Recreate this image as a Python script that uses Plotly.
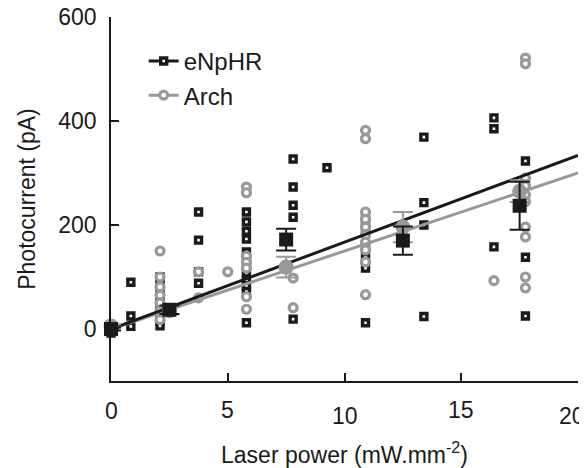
import plotly.graph_objects as go

# ---- data ----
enphr_x = [0, 0, 0.85, 0.85, 0.85,
           2.1, 2.1, 2.1, 2.1, 2.1, 2.1, 2.1, 2.1, 2.1,
           3.75, 3.75, 3.75, 3.75,
           5.8, 5.8, 5.8, 5.8, 5.8, 5.8, 5.8, 5.8, 5.8, 5.8, 5.8, 5.8,
           7.8, 7.8, 7.8, 7.8, 7.8,
           9.25,
           10.9, 10.9, 10.9, 10.9, 10.9, 10.9, 10.9,
           13.4, 13.4, 13.4, 13.4,
           16.4, 16.4, 16.4,
           17.75, 17.75, 17.75, 17.75]
enphr_y = [0, -8, 90, 25, 5,
           100, 88, 75, 62, 50, 38, 25, 15, 6,
           225, 171, 110, 88,
           225, 206, 188, 173, 148, 135, 122, 108, 95, 82, 72, 12,
           327, 273, 238, 215, 19,
           310,
           215, 206, 190, 156, 138, 117, 12,
           369, 243, 200, 24,
           406, 385, 158,
           323, 280, 138, 25]

arch_x = [0,
          2.1, 2.1, 2.1, 2.1, 2.1, 2.1, 2.1,
          3.75, 3.75,
          5.0,
          5.8, 5.8, 5.8, 5.8, 5.8, 5.8, 5.8,
          7.8, 7.8,
          10.9, 10.9, 10.9, 10.9, 10.9, 10.9, 10.9, 10.9, 10.9, 10.9,
          16.4,
          17.75, 17.75, 17.75, 17.75, 17.75, 17.75, 17.75, 17.75, 17.75, 17.75]
arch_y = [6,
          150, 100, 81, 65, 50, 35, 18,
          110, 60,
          110,
          273, 262, 140, 128, 117, 62, 38,
          98, 41,
          382, 366, 225, 211, 196, 181, 167, 152, 129, 66,
          93,
          521, 510, 290, 275, 258, 245, 196, 177, 100, 79]

mean_x = [0, 2.5, 7.5, 12.5, 17.5]
enphr_mean = [0, 37, 172, 170, 237]
enphr_err = [3, 8, 21, 27, 46]
arch_mean = [6, 35, 119, 196, 265]
arch_err = [3, 7, 20, 29, 21]

# slopes of the fitted lines through the origin (pA per mW.mm-2)
enphr_slope = 16.7
arch_slope = 15.0
fit_x = [0, 20]

xtick_vals = [0, 5, 10, 15, 20]
xtick_text = ["0", "5", "10", "15", "20"]
xtick_shift = [-30, -29, -35, -29, -35]
xtick_xshift = [0, 0, 0, 0, -6]
ytick_vals = [0, 200, 400, 600]

BLACK = "#1a1a1a"
GRAY = "#999999"
FONT = "Liberation Sans, Arial, sans-serif"
FS = 23

fig = go.Figure()

fig.add_trace(go.Scatter(
    x=enphr_x, y=enphr_y, mode="markers", showlegend=False,
    marker=dict(symbol="square", size=6, color="white",
                line=dict(color=BLACK, width=3.4)),
    cliponaxis=False))
fig.add_trace(go.Scatter(
    x=arch_x, y=arch_y, mode="markers", showlegend=False,
    marker=dict(symbol="circle", size=8, color="white",
                line=dict(color=GRAY, width=3.2)),
    cliponaxis=False))

fig.add_trace(go.Scatter(
    x=fit_x, y=[arch_slope * v for v in fit_x], mode="lines",
    showlegend=False, line=dict(color=GRAY, width=3)))
fig.add_trace(go.Scatter(
    x=fit_x, y=[enphr_slope * v for v in fit_x], mode="lines",
    showlegend=False, line=dict(color=BLACK, width=3)))

fig.add_trace(go.Scatter(
    x=mean_x, y=arch_mean, mode="markers", showlegend=False,
    marker=dict(symbol="circle", size=15, color=GRAY),
    error_y=dict(type="data", array=arch_err, color=GRAY,
                 thickness=2, width=10),
    cliponaxis=False))
fig.add_trace(go.Scatter(
    x=mean_x, y=enphr_mean, mode="markers", showlegend=False,
    marker=dict(symbol="square", size=14, color=BLACK),
    error_y=dict(type="data", array=enphr_err, color=BLACK,
                 thickness=2, width=10),
    cliponaxis=False))

# legend entries
fig.add_trace(go.Scatter(
    x=[None], y=[None], mode="lines+markers", name="eNpHR",
    legendgroup="a",
    line=dict(color=BLACK, width=3),
    marker=dict(symbol="square", size=6, color="white",
                line=dict(color=BLACK, width=3.4))))
fig.add_trace(go.Scatter(
    x=[None], y=[None], mode="lines+markers", name="Arch",
    legendgroup="b",
    line=dict(color=GRAY, width=3),
    marker=dict(symbol="circle", size=8, color="white",
                line=dict(color=GRAY, width=3.2))))

for v, t, s, xs in zip(xtick_vals, xtick_text, xtick_shift, xtick_xshift):
    fig.add_annotation(x=v, y=0, xref="x", yref="paper", text=t,
                       showarrow=False, yanchor="middle", yshift=s,
                       xshift=xs,
                       font=dict(family=FONT, size=FS, color=BLACK))

# the page body adds an 8px offset, so the figure is 8px smaller
fig.update_layout(
    width=579, height=460,
    margin=dict(l=103, r=9, t=9, b=87),
    plot_bgcolor="white", paper_bgcolor="white",
    font=dict(family=FONT, size=FS, color=BLACK),
    legend=dict(x=0.07, y=0.94, xanchor="left", yanchor="top",
                bgcolor="rgba(0,0,0,0)", tracegroupgap=0,
                font=dict(family=FONT, size=24, color=BLACK)),
    xaxis=dict(range=[0, 20], tickvals=xtick_vals, showticklabels=False,
               ticks="inside", ticklen=8, tickwidth=1.8, tickcolor=BLACK,
               showline=True, linecolor=BLACK, linewidth=1.8,
               showgrid=False, zeroline=False, automargin=False,
               title=dict(text="Laser power (mW.mm<sup>-2</sup>)",
                          standoff=69,
                          font=dict(family=FONT, size=FS, color=BLACK))),
    yaxis=dict(range=[-100, 600], tickvals=ytick_vals,
               ticks="inside", ticklen=8, tickwidth=1.8, tickcolor=BLACK,
               ticklabelstandoff=8, automargin=False,
               ticklabeloverflow="allow",
               showline=True, linecolor=BLACK, linewidth=1.8,
               showgrid=False, zeroline=False,
               tickfont=dict(family=FONT, size=FS, color=BLACK),
               title=dict(text="Photocurrent (pA)", standoff=16,
                          font=dict(family=FONT, size=FS, color=BLACK))),
)

fig.write_html("out.html")
